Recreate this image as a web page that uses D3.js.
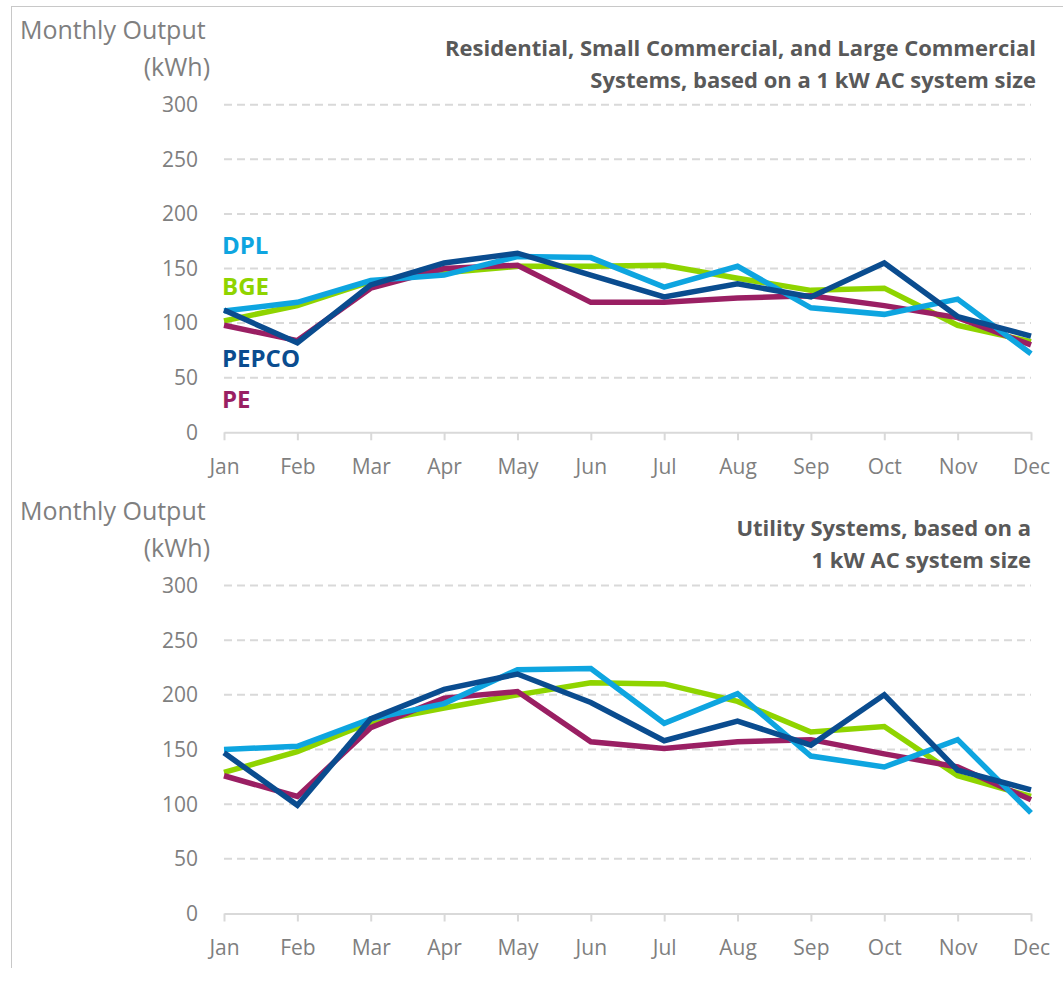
<!DOCTYPE html>
<html>
<head>
<meta charset="utf-8">
<script src="https://cdn.jsdelivr.net/npm/d3@7"></script>
<style>
  html, body { margin: 0; padding: 0; background: #fff; }
  svg { display: block; font-family: "Open Sans", Lato, sans-serif; }
</style>
</head>
<body>
<svg id="chart" width="1063" height="1000"></svg>
<script>
const months = ["Jan","Feb","Mar","Apr","May","Jun","Jul","Aug","Sep","Oct","Nov","Dec"];
const yTicks = [0, 50, 100, 150, 200, 250, 300];
const seriesNames = ["BGE", "PE", "DPL", "PEPCO"];
const seriesColors = { DPL: "#0ea5e0", BGE: "#8fd400", PEPCO: "#0a4c8f", PE: "#9a1f63" };

// Residential, Small Commercial, and Large Commercial
const resDPL   = [111, 119, 139, 144, 161, 160, 133, 152, 114, 108, 122, 72];
const resBGE   = [102, 116, 138, 146, 152, 152, 153, 141, 130, 132, 98, 83];
const resPEPCO = [112, 82, 135, 155, 164, 144, 124, 136, 124, 155, 106, 88];
const resPE    = [98, 84, 132, 150, 153, 119, 119, 123, 125, 116, 105, 80];

// Utility
const utlDPL   = [150, 153, 178, 192, 223, 224, 174, 201, 144, 134, 159, 92];
const utlBGE   = [129, 148, 175, 188, 200, 211, 210, 194, 166, 171, 126, 107];
const utlPEPCO = [147, 99, 178, 205, 219, 193, 158, 176, 154, 200, 131, 113];
const utlPE    = [126, 107, 170, 197, 203, 157, 151, 157, 159, 146, 134, 104];

const svg = d3.select("#chart");
const FONT = "'Open Sans', Lato, sans-serif";

// outer frame (left and top edges)
svg.append("line").attr("x1", 11.5).attr("x2", 11.5).attr("y1", 6).attr("y2", 968)
  .attr("stroke", "#c8c8c8").attr("stroke-width", 1);
svg.append("line").attr("x1", 11).attr("x2", 1063).attr("y1", 6.5).attr("y2", 6.5)
  .attr("stroke", "#c8c8c8").attr("stroke-width", 1);

const x = d3.scalePoint().domain(months).range([224, 1031]);

function drawChart(cfg) {
  const g = svg.append("g");
  const y = d3.scaleLinear().domain([0, 300]).range([cfg.y0, cfg.y300]);

  // gridlines
  g.selectAll("line.grid").data(yTicks.filter(d => d > 0)).join("line")
    .attr("x1", 224).attr("x2", 1031)
    .attr("y1", d => y(d)).attr("y2", d => y(d))
    .attr("stroke", "#d9d9d9").attr("stroke-width", 2).attr("stroke-dasharray", "8,5");

  // y tick labels
  g.selectAll("text.ytick").data(yTicks).join("text")
    .attr("x", 198).attr("y", d => y(d)).attr("dy", "0.35em")
    .attr("text-anchor", "end").attr("font-size", 21).attr("fill", "#7f7f7f")
    .text(d => d);

  // x axis
  const xAxis = d3.axisBottom(x).tickSize(8).tickPadding(19).tickSizeOuter(0);
  const ax = g.append("g").attr("transform", `translate(0,${cfg.y0})`).call(xAxis);
  ax.select(".domain").attr("stroke", "#d9d9d9").attr("stroke-width", 2);
  ax.selectAll(".tick line").attr("stroke", "#d9d9d9").attr("stroke-width", 2);
  ax.selectAll(".tick text").attr("font-size", 21).attr("fill", "#7f7f7f")
    .attr("font-family", FONT);

  // y axis title
  g.append("text").attr("x", 20).attr("y", cfg.titleY).attr("dy", "0.35em")
    .attr("font-size", 25).attr("fill", "#7f7f7f").text("Monthly Output");
  g.append("text").attr("x", 210).attr("y", cfg.titleY + 37).attr("dy", "0.35em")
    .attr("text-anchor", "end").attr("font-size", 25).attr("fill", "#7f7f7f").text("(kWh)");

  // chart title
  cfg.title.forEach((t, i) => {
    g.append("text").attr("x", cfg.titleX).attr("y", cfg.chartTitleY + i * 32).attr("dy", "0.35em")
      .attr("text-anchor", "end").attr("font-size", 22).attr("font-weight", "bold")
      .attr("fill", "#595959").text(t);
  });

  // lines
  const line = d3.line().x((d, i) => x(months[i])).y(d => y(d));
  seriesNames.forEach(name => {
    g.append("path").datum(cfg.data[name])
      .attr("d", line).attr("fill", "none")
      .attr("stroke", seriesColors[name]).attr("stroke-width", 5.5)
      .attr("stroke-linejoin", "miter").attr("stroke-linecap", "butt");
  });

  // labels
  if (cfg.labels) {
    cfg.labels.forEach(l => {
      g.append("text").attr("x", 222).attr("y", l.y).attr("dy", "0.35em")
        .attr("font-size", 24).attr("font-weight", "bold")
        .attr("fill", seriesColors[l.name]).text(l.name);
    });
  }
}

drawChart({
  y0: 432.3, y300: 104.7, titleY: 30, chartTitleY: 48, titleX: 1036,
  title: ["Residential, Small Commercial, and Large Commercial", "Systems, based on a 1 kW AC system size"],
  data: { DPL: resDPL, BGE: resBGE, PEPCO: resPEPCO, PE: resPE },
  labels: [{ name: "DPL", y: 246 }, { name: "BGE", y: 287 }, { name: "PEPCO", y: 359 }, { name: "PE", y: 400 }]
});

drawChart({
  y0: 913.5, y300: 585.5, titleY: 511, chartTitleY: 528, titleX: 1031,
  title: ["Utility Systems, based on a", "1 kW AC system size"],
  data: { DPL: utlDPL, BGE: utlBGE, PEPCO: utlPEPCO, PE: utlPE }
});
</script>
</body>
</html>
